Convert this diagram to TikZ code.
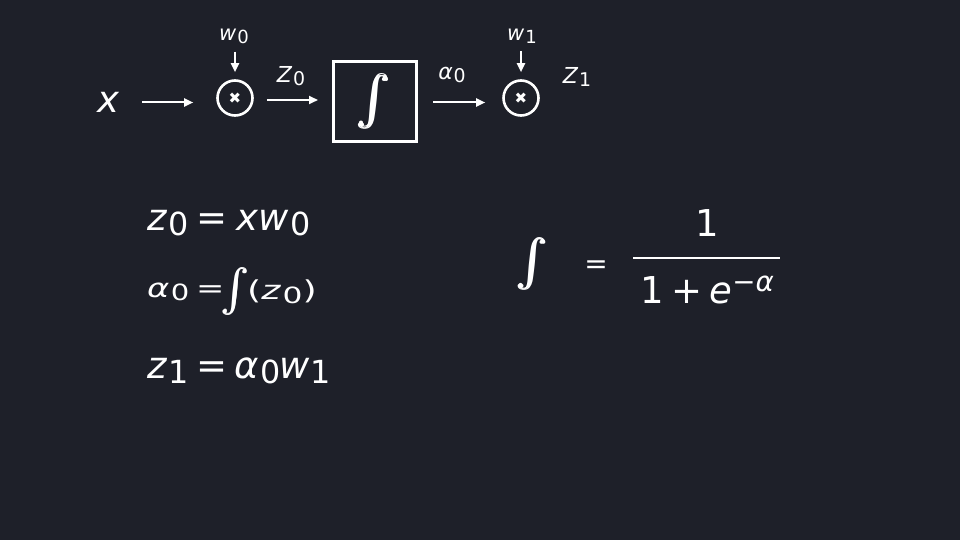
\documentclass[tikz,border=0pt]{standalone}
\usepackage{fontspec}
\setmainfont{DejaVu Sans}
\usepackage{amsmath, amssymb}
\usepackage{xcolor}
\usetikzlibrary{arrows.meta}

\definecolor{grund}{HTML}{1E2029}
% variable mit tiefgestelltem index
\newcommand{\idx}[2]{\textit{#1}\hspace{0.04em}\raisebox{-0.14em}{\scalebox{0.86}{#2}}}
% grosses integralzeichen
\newcommand{\integ}[2]{\resizebox*{#1}{#2}{$\pmb{\int}$}}

\begin{document}
\begin{tikzpicture}[x=1pt, y=-1pt,
	every node/.style={text=white, inner sep=0pt},
	pfeil/.style={white, line width=2pt, -{Triangle[length=9pt, width=8pt]}},
	mal/.style={circle, draw=white, line width=2.6pt, minimum size=35pt},
	kasten/.style={draw=white, line width=3pt, minimum width=83pt, minimum height=80pt}]
	% hintergrund
	\fill[grund] (0,0) rectangle (960,540);
	% obere reihe, eingang und erste multiplikation
	\node[font=\fontsize{37}{37}\selectfont\itshape] (x) at (108,102.5) {x};
	\node[mal] (m0) at (235,98) {\fontsize{15}{15}\selectfont ✖};
	\node[font=\fontsize{21}{21}\selectfont] (w0) at (234,36) {\idx{w}{0}};
	\draw[pfeil, shorten <=23pt, shorten >=23pt] (x.east) -- (x.east -| m0.west);
	\draw[pfeil, shorten <=8pt, shorten >=7pt] (w0.south -| m0.north) -- (m0.north);
	% obere reihe, kasten mit integral
	\node[kasten] (sig) at (375,101.5) {};
	\node (sigz) at (sig) {\integ{34pt}{55pt}};
	\node[font=\fontsize{22}{22}\selectfont] (z0) at (291,76) {\idx{Z}{0}};
	\draw[pfeil, shorten <=13pt, shorten >=14pt] ([yshift=-2pt]m0.east) -- ([yshift=-2pt]m0.east -| sig.west);
	% obere reihe, zweite multiplikation
	\node[mal] (m1) at (521,98) {\fontsize{15}{15}\selectfont ✖};
	\node[font=\fontsize{21}{21}\selectfont] (w1) at (522,36) {\idx{w}{1}};
	\node[font=\fontsize{22}{22}\selectfont] (a0) at (452,75) {\idx{α}{0}};
	\node[font=\fontsize{22}{22}\selectfont] (z1) at (577,77) {\idx{Z}{1}};
	\draw[pfeil, shorten <=15pt, shorten >=17pt] ([yshift=-1pt]sig.east) -- ([yshift=-1pt]sig.east -| m1.west);
	\draw[pfeil, shorten <=8pt, shorten >=7pt] (w1.south -| m1.north) -- (m1.north);
	% gleichungen links
	\node[anchor=base west, font=\fontsize{37}{37}\selectfont] (g0) at (147,230) {\idx{z}{0}\hspace{0.2em}=\hspace{0.25em}\textit{x}\idx{w}{0}};
	\node[anchor=base west, font=\fontsize{26}{26}\selectfont] (g1) at (147,297) {\scalebox{1.3}[1]{\idx{α}{0}\hspace{0.2em}=}};
	\node (g1s) at (236,291.5) {\integ{!}{48pt}};
	\node[anchor=west, font=\fontsize{26}{26}\selectfont] (g1z) at (247,291.5) {\scalebox{1.4}[1]{(\idx{z}{0})}};
	\node[anchor=base west, font=\fontsize{37}{37}\selectfont] (g2) at (147,378) {\idx{z}{1}\hspace{0.2em}=\hspace{0.2em}\idx{α}{0}\hspace{-0.05em}\idx{w}{1}};
	% sigmoid formel rechts
	\node (s) at (533.5,264) {\integ{!}{53pt}};
	\node[anchor=base, font=\fontsize{28}{28}\selectfont] (gl) at (596,273) {=};
	\node[font=\fontsize{37}{37}\selectfont] (zae) at (707,223.5) {1};
	\node[anchor=base, font=\fontsize{37}{37}\selectfont] (nen) at (707,303) {1\hspace{0.2em}+\hspace{0.2em}\textit{e}\raisebox{0.3em}{\scalebox{0.75}{−\textit{α}}}};
	\draw[white, line width=2.5pt] (633,258) -- (780,258);
\end{tikzpicture}
\end{document}
